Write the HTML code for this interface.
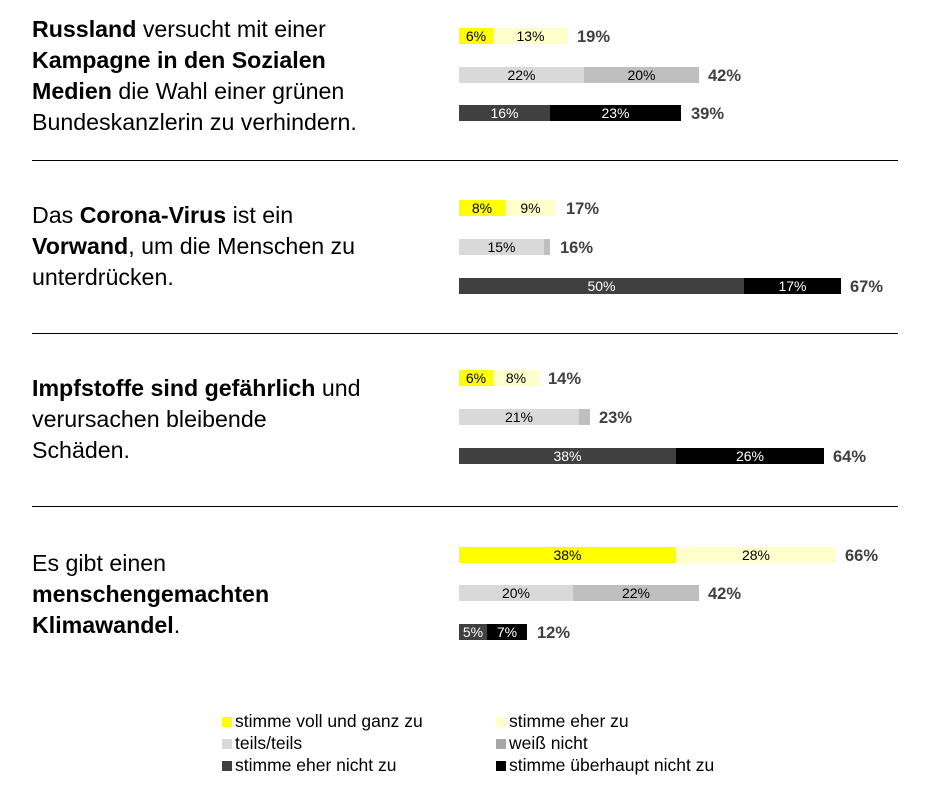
<!DOCTYPE html>
<html><head><meta charset="utf-8"><style>
body{margin:0;width:941px;height:791px;background:#fff;position:relative;font-family:"Liberation Sans",sans-serif;overflow:hidden}
.t{position:absolute;left:32px;font-size:23.2px;line-height:31px;color:#000}
.hr{position:absolute;left:32px;width:866px;height:1px;background:#000}
.bar{position:absolute;height:16px;display:flex;left:459px}
.bar div{height:16px;font-size:14px;line-height:16px;text-align:center;overflow:visible;white-space:nowrap}
.tot{position:absolute;font-size:16.5px;font-weight:bold;color:#404040;line-height:16px}
.a{background:#ffff00;color:#000}.b{background:#ffffcc;color:#000}.c{background:#d9d9d9;color:#000}.d{background:#bfbfbf;color:#000}.e{background:#404040;color:#fff}.f{background:#000;color:#fff}
.lg{position:absolute;font-size:17.5px;line-height:20px;color:#000}
.lg span{display:inline-block;width:10px;height:10px;margin-right:3px;vertical-align:0}
</style></head><body>
<div class="t" style="top:14px"><b>Russland</b> versucht mit einer<br><b>Kampagne in den Sozialen<br>Medien</b> die Wahl einer grünen<br>Bundeskanzlerin zu verhindern.</div>
<div class="t" style="top:200px">Das <b>Corona-Virus</b> ist ein<br><b>Vorwand</b>, um die Menschen zu<br>unterdrücken.</div>
<div class="t" style="top:373px"><b>Impfstoffe sind gefährlich</b> und<br>verursachen bleibende<br>Schäden.</div>
<div class="t" style="top:548px">Es gibt einen<br><b>menschengemachten<br>Klimawandel</b>.</div>
<div class="hr" style="top:160px"></div><div class="hr" style="top:333px"></div><div class="hr" style="top:506px"></div>

<div class="bar" style="top:28px"><div class="a" style="width:34px">6%</div><div class="b" style="width:75px">13%</div></div><div class="tot" style="top:29px;left:577px">19%</div>
<div class="bar" style="top:67px"><div class="c" style="width:125px">22%</div><div class="d" style="width:115px">20%</div></div><div class="tot" style="top:68px;left:708px">42%</div>
<div class="bar" style="top:105px"><div class="e" style="width:91px">16%</div><div class="f" style="width:131px">23%</div></div><div class="tot" style="top:106px;left:691px">39%</div>

<div class="bar" style="top:200px"><div class="a" style="width:46px">8%</div><div class="b" style="width:51px">9%</div></div><div class="tot" style="top:201px;left:566px">17%</div>
<div class="bar" style="top:239px"><div class="c" style="width:85px">15%</div><div class="d" style="width:6px"></div></div><div class="tot" style="top:240px;left:560px">16%</div>
<div class="bar" style="top:278px"><div class="e" style="width:285px">50%</div><div class="f" style="width:97px">17%</div></div><div class="tot" style="top:279px;left:850px">67%</div>

<div class="bar" style="top:370px"><div class="a" style="width:34px">6%</div><div class="b" style="width:46px">8%</div></div><div class="tot" style="top:371px;left:548px">14%</div>
<div class="bar" style="top:409px"><div class="c" style="width:120px">21%</div><div class="d" style="width:11px"></div></div><div class="tot" style="top:410px;left:599px">23%</div>
<div class="bar" style="top:448px"><div class="e" style="width:217px">38%</div><div class="f" style="width:148px">26%</div></div><div class="tot" style="top:449px;left:833px">64%</div>

<div class="bar" style="top:547px"><div class="a" style="width:217px">38%</div><div class="b" style="width:160px">28%</div></div><div class="tot" style="top:548px;left:845px">66%</div>
<div class="bar" style="top:585px"><div class="c" style="width:114px">20%</div><div class="d" style="width:126px">22%</div></div><div class="tot" style="top:586px;left:708px">42%</div>
<div class="bar" style="top:624px"><div class="e" style="width:28px">5%</div><div class="f" style="width:40px">7%</div></div><div class="tot" style="top:625px;left:537px">12%</div>

<div class="lg" style="left:222px;top:711px"><span style="background:#ffff00"></span>stimme voll und ganz zu</div>
<div class="lg" style="left:222px;top:733px"><span style="background:#d9d9d9"></span>teils/teils</div>
<div class="lg" style="left:222px;top:755px"><span style="background:#404040"></span>stimme eher nicht zu</div>
<div class="lg" style="left:496px;top:711px"><span style="background:#ffffcc"></span>stimme eher zu</div>
<div class="lg" style="left:496px;top:733px"><span style="background:#a6a6a6"></span>weiß nicht</div>
<div class="lg" style="left:496px;top:755px"><span style="background:#000"></span>stimme überhaupt nicht zu</div>
</body></html>
